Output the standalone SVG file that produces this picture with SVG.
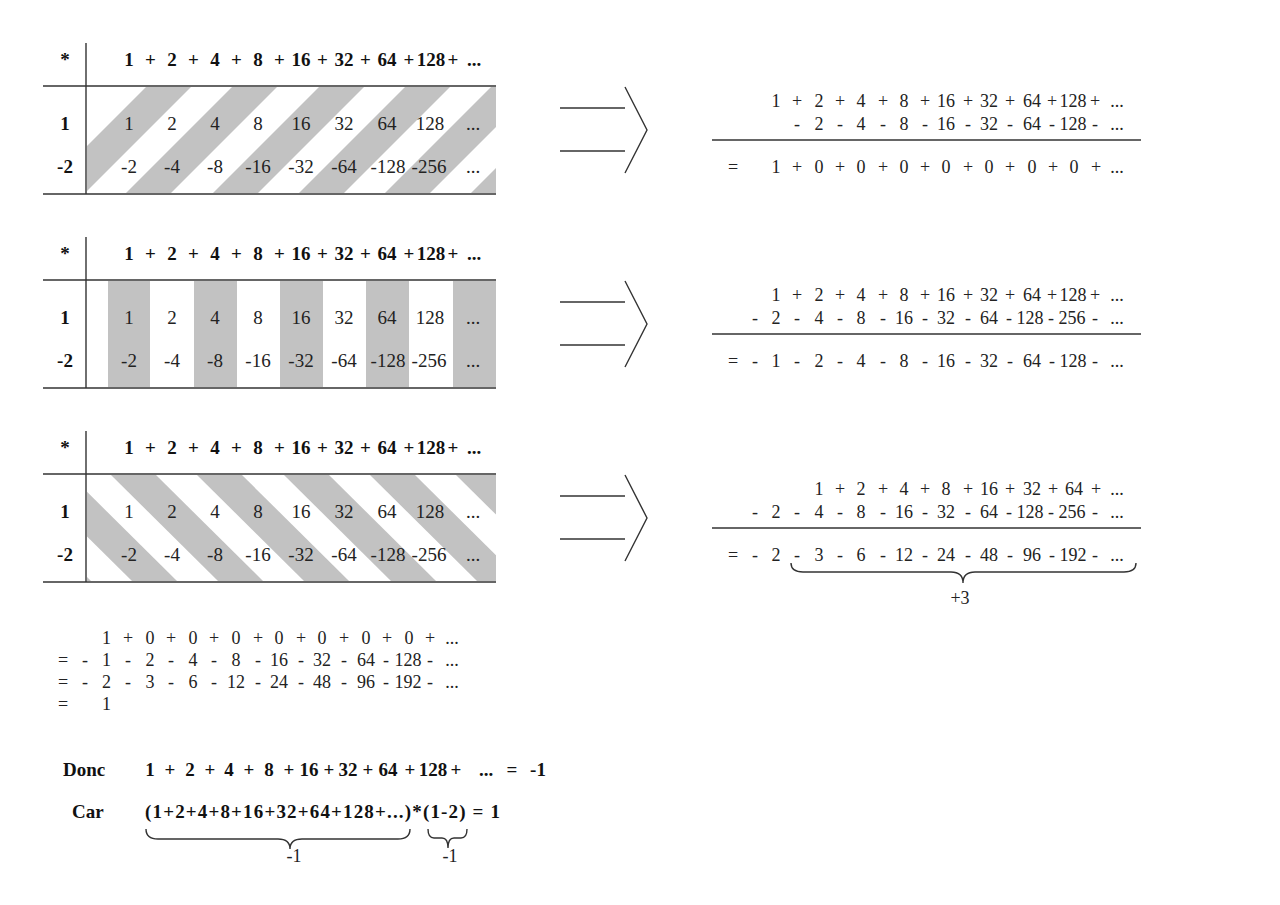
<svg xmlns="http://www.w3.org/2000/svg" width="1280" height="905" viewBox="0 0 1280 905">
<style>
.bg{fill:#fff}
.ln{stroke:#333;stroke-width:1.4;fill:none;stroke-linecap:butt}
.st{fill:#c2c2c2}
.hb{font-family:"Liberation Serif",serif;font-weight:bold;font-size:19px;fill:#111;text-anchor:middle}
.tb{font-family:"Liberation Serif",serif;font-size:19px;fill:#222;text-anchor:middle}
.tn{font-family:"Liberation Serif",serif;font-size:18px;fill:#222;text-anchor:middle}
.bs{font-family:"Liberation Serif",serif;font-weight:bold;font-size:19px;fill:#111}
</style>
<defs>
<clipPath id="c1"><rect x="87" y="87" width="409" height="106"/></clipPath>
<clipPath id="c3"><rect x="87" y="475" width="409" height="106"/></clipPath>
</defs>
<rect class="bg" x="0" y="0" width="1280" height="905"/>

<g id="table1">
<g clip-path="url(#c1)">
<polygon class="st" points="147,86 192,86 85,193 40,193"/>
<polygon class="st" points="233,86 278,86 171,193 126,193"/>
<polygon class="st" points="320,86 365,86 258,193 213,193"/>
<polygon class="st" points="406,86 451,86 344,193 299,193"/>
<polygon class="st" points="492,86 537,86 430,193 385,193"/>
<polygon class="st" points="578,86 623,86 516,193 471,193"/>
</g>
<line class="ln" x1="86" y1="43" x2="86" y2="194"/>
<line class="ln" x1="43" y1="86" x2="496" y2="86"/>
<line class="ln" x1="43" y1="194" x2="496" y2="194"/>
<text class="hb"><tspan x="65" y="66">*</tspan><tspan x="65" y="130">1</tspan><tspan x="65" y="173">-2</tspan></text>
<text class="hb" y="66"><tspan x="129">1</tspan><tspan x="150.5">+</tspan><tspan x="172">2</tspan><tspan x="193.5">+</tspan><tspan x="215">4</tspan><tspan x="236.5">+</tspan><tspan x="258">8</tspan><tspan x="279.5">+</tspan><tspan x="301">16</tspan><tspan x="322.5">+</tspan><tspan x="344">32</tspan><tspan x="365.5">+</tspan><tspan x="387">64</tspan><tspan x="409">+</tspan><tspan x="431">128</tspan><tspan x="453">+</tspan><tspan x="474">...</tspan></text>
<text class="tb" y="130"><tspan x="129">1</tspan><tspan x="172">2</tspan><tspan x="215">4</tspan><tspan x="258">8</tspan><tspan x="301">16</tspan><tspan x="344">32</tspan><tspan x="387">64</tspan><tspan x="430">128</tspan><tspan x="473">...</tspan></text>
<text class="tb" y="173"><tspan x="129">-2</tspan><tspan x="172">-4</tspan><tspan x="215">-8</tspan><tspan x="258">-16</tspan><tspan x="301">-32</tspan><tspan x="344">-64</tspan><tspan x="388">-128</tspan><tspan x="429">-256</tspan><tspan x="473">...</tspan></text>
</g>

<g id="table2">
<rect class="st" x="108" y="281" width="42" height="106"/>
<rect class="st" x="194" y="281" width="43" height="106"/>
<rect class="st" x="280" y="281" width="43" height="106"/>
<rect class="st" x="366" y="281" width="43" height="106"/>
<rect class="st" x="453" y="281" width="43" height="106"/>
<line class="ln" x1="86" y1="237" x2="86" y2="388"/>
<line class="ln" x1="43" y1="280" x2="496" y2="280"/>
<line class="ln" x1="43" y1="388" x2="496" y2="388"/>
<text class="hb"><tspan x="65" y="260">*</tspan><tspan x="65" y="324">1</tspan><tspan x="65" y="367">-2</tspan></text>
<text class="hb" y="260"><tspan x="129">1</tspan><tspan x="150.5">+</tspan><tspan x="172">2</tspan><tspan x="193.5">+</tspan><tspan x="215">4</tspan><tspan x="236.5">+</tspan><tspan x="258">8</tspan><tspan x="279.5">+</tspan><tspan x="301">16</tspan><tspan x="322.5">+</tspan><tspan x="344">32</tspan><tspan x="365.5">+</tspan><tspan x="387">64</tspan><tspan x="409">+</tspan><tspan x="431">128</tspan><tspan x="453">+</tspan><tspan x="474">...</tspan></text>
<text class="tb" y="324"><tspan x="129">1</tspan><tspan x="172">2</tspan><tspan x="215">4</tspan><tspan x="258">8</tspan><tspan x="301">16</tspan><tspan x="344">32</tspan><tspan x="387">64</tspan><tspan x="430">128</tspan><tspan x="473">...</tspan></text>
<text class="tb" y="367"><tspan x="129">-2</tspan><tspan x="172">-4</tspan><tspan x="215">-8</tspan><tspan x="258">-16</tspan><tspan x="301">-32</tspan><tspan x="344">-64</tspan><tspan x="388">-128</tspan><tspan x="429">-256</tspan><tspan x="473">...</tspan></text>
</g>

<g id="table3">
<g clip-path="url(#c3)">
<polygon class="st" points="-62,474 -17,474 92,582 47,582"/>
<polygon class="st" points="24,474 69,474 178,582 133,582"/>
<polygon class="st" points="110,474 155,474 264,582 219,582"/>
<polygon class="st" points="196,474 241,474 350,582 305,582"/>
<polygon class="st" points="283,474 328,474 437,582 392,582"/>
<polygon class="st" points="369,474 414,474 523,582 478,582"/>
<polygon class="st" points="455,474 500,474 609,582 564,582"/>
</g>
<line class="ln" x1="86" y1="431" x2="86" y2="582"/>
<line class="ln" x1="43" y1="474" x2="496" y2="474"/>
<line class="ln" x1="43" y1="582" x2="496" y2="582"/>
<text class="hb"><tspan x="65" y="454">*</tspan><tspan x="65" y="518">1</tspan><tspan x="65" y="561">-2</tspan></text>
<text class="hb" y="454"><tspan x="129">1</tspan><tspan x="150.5">+</tspan><tspan x="172">2</tspan><tspan x="193.5">+</tspan><tspan x="215">4</tspan><tspan x="236.5">+</tspan><tspan x="258">8</tspan><tspan x="279.5">+</tspan><tspan x="301">16</tspan><tspan x="322.5">+</tspan><tspan x="344">32</tspan><tspan x="365.5">+</tspan><tspan x="387">64</tspan><tspan x="409">+</tspan><tspan x="431">128</tspan><tspan x="453">+</tspan><tspan x="474">...</tspan></text>
<text class="tb" y="518"><tspan x="129">1</tspan><tspan x="172">2</tspan><tspan x="215">4</tspan><tspan x="258">8</tspan><tspan x="301">16</tspan><tspan x="344">32</tspan><tspan x="387">64</tspan><tspan x="430">128</tspan><tspan x="473">...</tspan></text>
<text class="tb" y="561"><tspan x="129">-2</tspan><tspan x="172">-4</tspan><tspan x="215">-8</tspan><tspan x="258">-16</tspan><tspan x="301">-32</tspan><tspan x="344">-64</tspan><tspan x="388">-128</tspan><tspan x="429">-256</tspan><tspan x="473">...</tspan></text>
</g>

<g id="connectors">
<g id="arrow1"><line class="ln" x1="560" y1="108" x2="625" y2="108"/><line class="ln" x1="560" y1="151" x2="625" y2="151"/><polyline class="ln" points="625,87 647,130 625,173"/></g>
<g id="arrow2"><line class="ln" x1="560" y1="302" x2="625" y2="302"/><line class="ln" x1="560" y1="345" x2="625" y2="345"/><polyline class="ln" points="625,281 647,324 625,367"/></g>
<g id="arrow3"><line class="ln" x1="560" y1="496" x2="625" y2="496"/><line class="ln" x1="560" y1="539" x2="625" y2="539"/><polyline class="ln" points="625,475 647,518 625,561"/></g>
</g>

<g id="eq1">
<text class="tn" y="107"><tspan x="776">1</tspan><tspan x="797">+</tspan><tspan x="819">2</tspan><tspan x="840">+</tspan><tspan x="861">4</tspan><tspan x="883">+</tspan><tspan x="904">8</tspan><tspan x="925">+</tspan><tspan x="946">16</tspan><tspan x="968">+</tspan><tspan x="989">32</tspan><tspan x="1010">+</tspan><tspan x="1032">64</tspan><tspan x="1052">+</tspan><tspan x="1073">128</tspan><tspan x="1095">+</tspan><tspan x="1117">...</tspan></text>
<text class="tn" y="130"><tspan x="797">-</tspan><tspan x="819">2</tspan><tspan x="840">-</tspan><tspan x="861">4</tspan><tspan x="883">-</tspan><tspan x="904">8</tspan><tspan x="925">-</tspan><tspan x="946">16</tspan><tspan x="968">-</tspan><tspan x="989">32</tspan><tspan x="1010">-</tspan><tspan x="1032">64</tspan><tspan x="1052">-</tspan><tspan x="1073">128</tspan><tspan x="1095">-</tspan><tspan x="1117">...</tspan></text>
<line class="ln" x1="712" y1="140" x2="1141" y2="140"/>
<text class="tn" y="173"><tspan x="733">=</tspan><tspan x="776">1</tspan><tspan x="797">+</tspan><tspan x="819">0</tspan><tspan x="840">+</tspan><tspan x="861">0</tspan><tspan x="883">+</tspan><tspan x="904">0</tspan><tspan x="925">+</tspan><tspan x="946">0</tspan><tspan x="968">+</tspan><tspan x="989">0</tspan><tspan x="1010">+</tspan><tspan x="1032">0</tspan><tspan x="1053">+</tspan><tspan x="1074">0</tspan><tspan x="1096">+</tspan><tspan x="1117">...</tspan></text>
</g>

<g id="eq2">
<text class="tn" y="301"><tspan x="776">1</tspan><tspan x="797">+</tspan><tspan x="819">2</tspan><tspan x="840">+</tspan><tspan x="861">4</tspan><tspan x="883">+</tspan><tspan x="904">8</tspan><tspan x="925">+</tspan><tspan x="946">16</tspan><tspan x="968">+</tspan><tspan x="989">32</tspan><tspan x="1010">+</tspan><tspan x="1032">64</tspan><tspan x="1052">+</tspan><tspan x="1073">128</tspan><tspan x="1095">+</tspan><tspan x="1117">...</tspan></text>
<text class="tn" y="324"><tspan x="755">-</tspan><tspan x="776">2</tspan><tspan x="797">-</tspan><tspan x="819">4</tspan><tspan x="840">-</tspan><tspan x="861">8</tspan><tspan x="883">-</tspan><tspan x="904">16</tspan><tspan x="925">-</tspan><tspan x="946">32</tspan><tspan x="968">-</tspan><tspan x="989">64</tspan><tspan x="1009">-</tspan><tspan x="1030">128</tspan><tspan x="1051">-</tspan><tspan x="1072">256</tspan><tspan x="1095">-</tspan><tspan x="1117">...</tspan></text>
<line class="ln" x1="712" y1="334" x2="1141" y2="334"/>
<text class="tn" y="367"><tspan x="733">=</tspan><tspan x="755">-</tspan><tspan x="776">1</tspan><tspan x="797">-</tspan><tspan x="819">2</tspan><tspan x="840">-</tspan><tspan x="861">4</tspan><tspan x="883">-</tspan><tspan x="904">8</tspan><tspan x="925">-</tspan><tspan x="946">16</tspan><tspan x="968">-</tspan><tspan x="989">32</tspan><tspan x="1010">-</tspan><tspan x="1032">64</tspan><tspan x="1052">-</tspan><tspan x="1073">128</tspan><tspan x="1095">-</tspan><tspan x="1117">...</tspan></text>
</g>

<g id="eq3">
<text class="tn" y="495"><tspan x="819">1</tspan><tspan x="840">+</tspan><tspan x="861">2</tspan><tspan x="883">+</tspan><tspan x="904">4</tspan><tspan x="925">+</tspan><tspan x="946">8</tspan><tspan x="968">+</tspan><tspan x="989">16</tspan><tspan x="1010">+</tspan><tspan x="1032">32</tspan><tspan x="1053">+</tspan><tspan x="1074">64</tspan><tspan x="1096">+</tspan><tspan x="1117">...</tspan></text>
<text class="tn" y="518"><tspan x="755">-</tspan><tspan x="776">2</tspan><tspan x="797">-</tspan><tspan x="819">4</tspan><tspan x="840">-</tspan><tspan x="861">8</tspan><tspan x="883">-</tspan><tspan x="904">16</tspan><tspan x="925">-</tspan><tspan x="946">32</tspan><tspan x="968">-</tspan><tspan x="989">64</tspan><tspan x="1009">-</tspan><tspan x="1030">128</tspan><tspan x="1051">-</tspan><tspan x="1072">256</tspan><tspan x="1095">-</tspan><tspan x="1117">...</tspan></text>
<line class="ln" x1="712" y1="528" x2="1141" y2="528"/>
<text class="tn" y="561"><tspan x="733">=</tspan><tspan x="755">-</tspan><tspan x="776">2</tspan><tspan x="797">-</tspan><tspan x="819">3</tspan><tspan x="840">-</tspan><tspan x="861">6</tspan><tspan x="883">-</tspan><tspan x="904">12</tspan><tspan x="925">-</tspan><tspan x="946">24</tspan><tspan x="968">-</tspan><tspan x="989">48</tspan><tspan x="1010">-</tspan><tspan x="1032">96</tspan><tspan x="1052">-</tspan><tspan x="1073">192</tspan><tspan x="1095">-</tspan><tspan x="1117">...</tspan></text>
<path class="ln" d="M791,563 Q791,572 803,572 L951,572 Q963,572 963,583 Q963,572 975,572 L1124,572 Q1136,572 1136,563"/>
<text class="tn" x="960" y="604">+3</text>
</g>

<g id="summary">
<text class="tn" y="644"><tspan x="106.5">1</tspan><tspan x="128">+</tspan><tspan x="150">0</tspan><tspan x="171">+</tspan><tspan x="193">0</tspan><tspan x="214">+</tspan><tspan x="236">0</tspan><tspan x="258">+</tspan><tspan x="279">0</tspan><tspan x="301">+</tspan><tspan x="322">0</tspan><tspan x="344">+</tspan><tspan x="366">0</tspan><tspan x="387">+</tspan><tspan x="409">0</tspan><tspan x="430">+</tspan><tspan x="452">...</tspan></text>
<text class="tn" y="666"><tspan x="63">=</tspan><tspan x="85">-</tspan><tspan x="106.5">1</tspan><tspan x="128">-</tspan><tspan x="150">2</tspan><tspan x="171">-</tspan><tspan x="193">4</tspan><tspan x="214">-</tspan><tspan x="236">8</tspan><tspan x="258">-</tspan><tspan x="279">16</tspan><tspan x="301">-</tspan><tspan x="322">32</tspan><tspan x="344">-</tspan><tspan x="366">64</tspan><tspan x="386">-</tspan><tspan x="408">128</tspan><tspan x="430">-</tspan><tspan x="452">...</tspan></text>
<text class="tn" y="688"><tspan x="63">=</tspan><tspan x="85">-</tspan><tspan x="106.5">2</tspan><tspan x="128">-</tspan><tspan x="150">3</tspan><tspan x="171">-</tspan><tspan x="193">6</tspan><tspan x="214">-</tspan><tspan x="236">12</tspan><tspan x="258">-</tspan><tspan x="279">24</tspan><tspan x="301">-</tspan><tspan x="322">48</tspan><tspan x="344">-</tspan><tspan x="366">96</tspan><tspan x="386">-</tspan><tspan x="408">192</tspan><tspan x="430">-</tspan><tspan x="452">...</tspan></text>
<text class="tn" y="710"><tspan x="63">=</tspan><tspan x="106.5">1</tspan></text>
</g>

<g id="conclusion">
<text class="bs" x="63" y="776">Donc</text>
<text class="hb" y="776"><tspan x="150">1</tspan><tspan x="170">+</tspan><tspan x="190">2</tspan><tspan x="210">+</tspan><tspan x="229">4</tspan><tspan x="249">+</tspan><tspan x="269">8</tspan><tspan x="289">+</tspan><tspan x="309">16</tspan><tspan x="329">+</tspan><tspan x="348">32</tspan><tspan x="368">+</tspan><tspan x="388">64</tspan><tspan x="410">+</tspan><tspan x="433">128</tspan><tspan x="456">+</tspan><tspan x="486">...</tspan><tspan x="512">=</tspan><tspan x="538">-1</tspan></text>
<text class="bs" x="72" y="818">Car</text>
<text class="bs" x="145" y="818" textLength="355" lengthAdjust="spacing">(1+2+4+8+16+32+64+128+...)*(1-2) = 1</text>
<path class="ln" d="M146,829 Q146,839 158,839 L278,839 Q290,839 290,849 Q290,839 302,839 L398,839 Q410,839 410,829"/>
<text class="tn" x="294" y="862">-1</text>
<path class="ln" d="M428,829 Q428,838 434,838 L442,838 Q448,838 448,848 Q448,838 454,838 L461,838 Q467,838 467,829"/>
<text class="tn" x="450" y="862">-1</text>
</g>
</svg>
